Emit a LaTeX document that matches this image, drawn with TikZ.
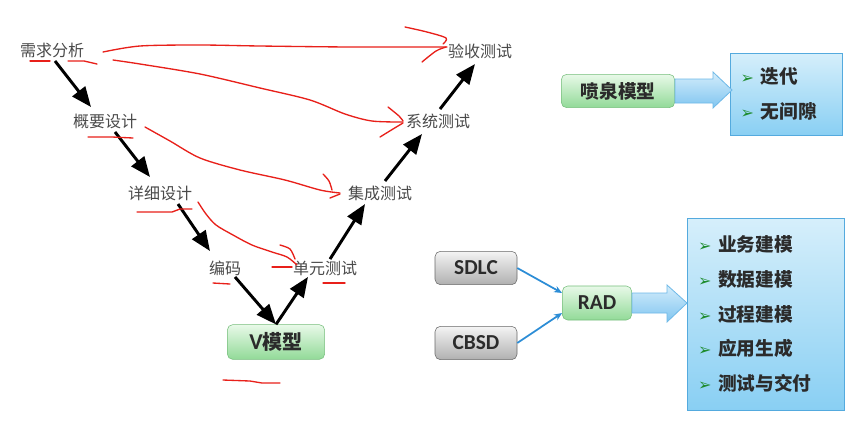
\documentclass[tikz,border=0pt]{standalone}
\usepackage{fontspec}
\setmainfont{Noto Sans CJK SC}
\newfontfamily\latinfont{Carlito}
\newfontfamily\symfont{DejaVu Sans}
\usetikzlibrary{arrows.meta,calc,positioning}

\definecolor{vtext}{HTML}{4A4A4A}
\definecolor{boxtext}{HTML}{2B2B2B}
\definecolor{bulletgreen}{HTML}{1E8C2E}
\definecolor{penred}{HTML}{E8201A}
\definecolor{linkblue}{HTML}{2C8DD6}

\newcommand{\bul}{{\symfont\fontsize{12}{12}\selectfont\textcolor{bulletgreen}{➢}}\hspace{5pt}}

\begin{document}
\begin{tikzpicture}[x=0.75pt, y=-0.75pt,
    vlabel/.style={text=vtext, inner sep=1pt, font=\fontsize{12}{14}\selectfont},
    greenbox/.style={rounded corners=4pt, draw={rgb,255:red,118;green,190;blue,124},
        top color={rgb,255:red,232;green,249;blue,232}, bottom color={rgb,255:red,146;green,218;blue,152},
        text=boxtext, font=\fontsize{14}{16}\selectfont\bfseries},
    graybox/.style={rounded corners=4pt, draw={rgb,255:red,105;green,105;blue,105},
        top color={rgb,255:red,244;green,244;blue,244}, bottom color={rgb,255:red,176;green,176;blue,176},
        text=boxtext, minimum width=61.5pt, minimum height=25pt, font=\latinfont\fontsize{16}{18}\selectfont\bfseries},
    bluebox/.style={draw={rgb,255:red,84;green,170;blue,222},
        top color={rgb,255:red,214;green,239;blue,251}, bottom color={rgb,255:red,137;green,207;blue,243},
        align=left, inner xsep=8pt, text=boxtext, font=\fontsize{14}{26}\selectfont\bfseries},
    blockarrow/.style={draw={rgb,255:red,110;green,185;blue,232}, line width=0.6pt,
        top color={rgb,255:red,212;green,237;blue,251}, bottom color={rgb,255:red,128;green,197;blue,240}},
    blackarrow/.style={line width=2.2pt, -{Triangle[length=15pt,width=12pt]}},
    bluearrow/.style={linkblue, line width=1.3pt, -{Stealth[length=6pt,width=5pt]}},
    redmark/.style={penred, line width=1pt, line cap=round, line join=round}]

\useasboundingbox[fill=white] (0,0) rectangle (866,430);

% V model
\node[vlabel] (req)     at (52,50)   {需求分析};
\node[vlabel] (outline) at (105,121) {概要设计};
\node[vlabel] (detail)  at (160,193) {详细设计};
\node[vlabel] (code)    at (225,268) {编码};
\node[vlabel] (unit)    at (325,268) {单元测试};
\node[vlabel] (integ)   at (380,193) {集成测试};
\node[vlabel] (system)  at (438,121) {系统测试};
\node[vlabel] (accept)  at (480,51)  {验收测试};
\node[greenbox, minimum width=73pt, minimum height=26pt,
      font=\fontsize{15}{17}\selectfont\bfseries] (vmodel) at (276,342) {{\latinfont\fontsize{17}{17}\selectfont V}模型};

\draw[blackarrow] ($(req.south)+(3,2)$) -- ($(outline.north)+(-14,-5)$);
\draw[blackarrow] ($(outline.south)+(10,2)$) -- ($(detail.north)+(-10,-7)$);
\draw[blackarrow] ($(detail.south)+(18,2)$) -- ($(code.north)+(-15,-8)$);
\draw[blackarrow] ($(code.south)+(10,0)$) -- (vmodel.north);
\draw[blackarrow] (vmodel.north) -- ($(unit.south)+(-17,0)$);
\draw[blackarrow] ($(unit.north)+(5,0)$) -- ($(integ.south)+(-15,2)$);
\draw[blackarrow] ($(integ.north)+(5,-3)$) -- ($(system.south)+(-16,4)$);
\draw[blackarrow] ($(system.north)+(2,-3)$) -- ($(accept.south)+(-5,4)$);

% pen marks
\draw[redmark] (30,61) -- (50,61);
\draw[redmark] (68,61) -- (84,61) -- (97,64);
\draw[redmark] (88,137) -- (112,137) -- (133,138);
\draw[redmark] (137,212) -- (172,212) -- (180,209) -- (192,209);
\draw[redmark] (213,283) -- (230,284);
\draw[redmark] (272,267) -- (292,267);
\draw[redmark] (323,283) -- (345,283);
\draw[redmark] (223,380) -- (250,381) -- (262,383) -- (280,383);

\draw[redmark] plot[smooth] coordinates {(103,52) (140,46) (200,45) (260,46) (350,47) (447,47)};
\draw[redmark] plot[smooth] coordinates {(405,27) (427,32) (446,38) (443,44)};
\draw[redmark] plot[smooth] coordinates {(422,62) (436,51) (446,47)};

\draw[redmark] plot[smooth] coordinates {(113,60) (140,64) (200,74) (260,88) (310,100) (345,114) (372,121) (403,122)};
\draw[redmark] plot[smooth] coordinates {(388,107) (399,116) (403,121)};
\draw[redmark] plot[smooth] coordinates {(380,137) (393,129) (403,123)};

\draw[redmark] plot[smooth] coordinates {(145,127) (170,141) (200,158) (240,170) (285,180) (320,190) (340,193)};
\draw[redmark] plot[smooth] coordinates {(323,174) (329,181) (332,190)};
\draw[redmark] (330,198) -- (340,194);

\draw[redmark] plot[smooth] coordinates {(198,202) (206,214) (216,225) (233,235) (252,245) (272,252) (287,257) (297,265)};
\draw[redmark] plot[smooth] coordinates {(280,245) (290,249) (295,259)};

% fountain model
\node[greenbox, minimum width=85pt, minimum height=25pt] (fountain) at (618,91) {喷泉模型};
\node[bluebox, text width=68pt, minimum height=61.5pt] (fountainlist) at (786,94)
    {\bul 迭代\\ \bul 无间隙};
\path[blockarrow] (675,79) -- (713,79) -- (713,72) -- (732,90) -- (713,108) -- (713,103) -- (675,103) -- cycle;

% RAD
\node[graybox] (sdlc) at (476,268) {SDLC};
\node[graybox] (cbsd) at (476,343) {CBSD};
\node[greenbox, minimum width=52pt, minimum height=25.5pt,
      font=\latinfont\fontsize{16}{18}\selectfont\bfseries] (rad) at (597,303) {RAD};
\node[bluebox, text width=102pt, minimum height=144pt] (radlist) at (766,314)
    {\bul 业务建模\\ \bul 数据建模\\ \bul 过程建模\\ \bul 应用生成\\ \bul 测试与交付};

\draw[bluearrow] (sdlc.east) -- ($(rad.west)+(0,-10)$);
\draw[bluearrow] (cbsd.east) -- ($(rad.west)+(0,10)$);
\path[blockarrow] (632,293) -- (667,293) -- (667,285) -- (687,303) -- (667,322) -- (667,313) -- (632,313) -- cycle;

\end{tikzpicture}
\end{document}
